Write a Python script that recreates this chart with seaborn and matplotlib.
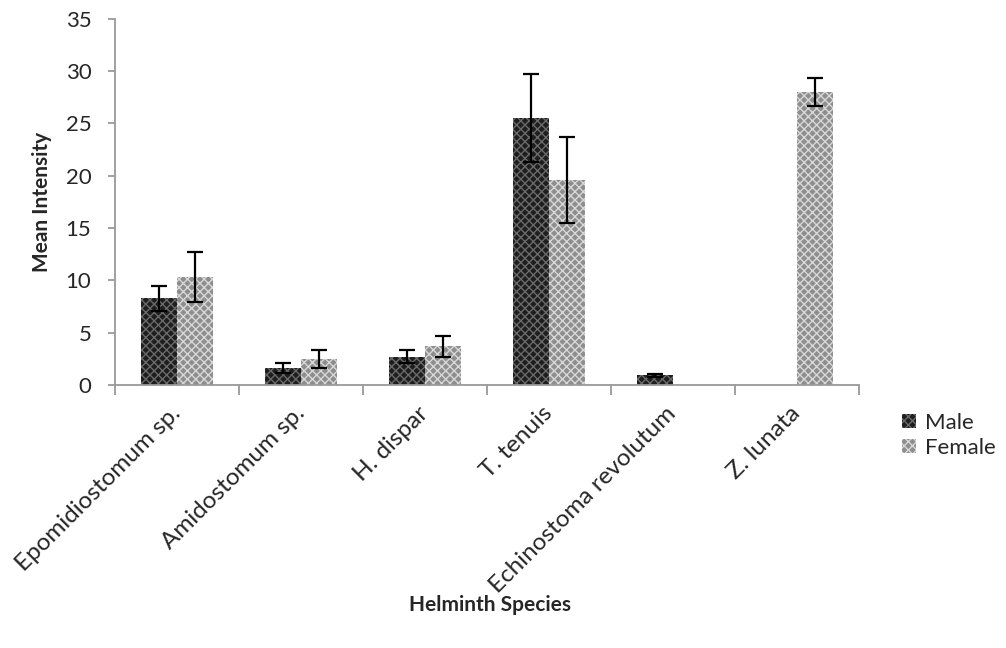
import matplotlib
matplotlib.use("Agg")
import matplotlib.pyplot as plt
import seaborn as sns
import pandas as pd
import numpy as np
from matplotlib.patches import Patch

species = ["Epomidiostomum sp.", "Amidostomum sp.", "H. dispar", "T. tenuis",
           "Echinostoma revolutum", "Z. lunata"]
male = [8.3, 1.6, 2.7, 25.5, 0.9, 0.0]
male_err = [1.2, 0.5, 0.6, 4.2, 0.1, 0.0]
female = [10.3, 2.5, 3.7, 19.6, 0.0, 28.0]
female_err = [2.4, 0.85, 1.0, 4.1, 0.0, 1.3]
sexes = ["Male", "Female"]
yticks = [0, 5, 10, 15, 20, 25, 30, 35]

df = pd.DataFrame({
    "Species": species * 2,
    "Sex": ["Male"] * len(species) + ["Female"] * len(species),
    "Value": male + female,
})

sns.set_style("white")
plt.rcParams["font.family"] = ["Lato", "DejaVu Sans"]
plt.rcParams["hatch.linewidth"] = 1.0

fig = plt.figure(figsize=(10.06, 6.48), dpi=100)
ax = fig.add_axes([0.1143, 0.406, 0.7395, 0.565])

face = {"Male": "#1e1e1e", "Female": "#8e8e8e"}
hatchc = {"Male": "#6a6a6a", "Female": "#d8d8d8"}

sns.barplot(data=df, x="Species", y="Value", hue="Sex", order=species,
            hue_order=sexes, palette=face, width=0.58, gap=0, ax=ax,
            legend=False, errorbar=None, saturation=1)

errs = {"Male": (male, male_err), "Female": (female, female_err)}
for cont, sex in zip(ax.containers, sexes):
    vals, es = errs[sex]
    for bar, v, e in zip(cont, vals, es):
        bar.set_hatch("xxxx")
        bar.set_edgecolor(hatchc[sex])
        bar.set_linewidth(0)
        if v > 0 and e > 0:
            cx = bar.get_x() + bar.get_width() / 2
            ax.errorbar(cx, v, yerr=e, color="black", capsize=6,
                        elinewidth=1.6, capthick=1.6, fmt="none", zorder=5)

ax.set_ylim(0, 35)
ax.set_xlim(-0.5, len(species) - 0.5)
ax.set_xlabel("")
ax.set_yticks(yticks)
ax.set_yticklabels([str(t) for t in yticks], fontsize=16)
for s in ["top", "right"]:
    ax.spines[s].set_visible(False)
for s in ["left", "bottom"]:
    ax.spines[s].set_color("#999999")
    ax.spines[s].set_linewidth(1.3)

ax.tick_params(axis="y", which="major", direction="out", length=5,
               color="#999999", width=1.3, left=True, pad=12)
ax.set_xticks(np.arange(len(species)))
ax.set_xticklabels(species, rotation=45, ha="right", va="center",
                   rotation_mode="anchor", fontsize=17.5)
ax.tick_params(axis="x", which="major", length=0, pad=18)
ax.set_xticks(np.arange(len(species) + 1) - 0.5, minor=True)
ax.tick_params(axis="x", which="minor", direction="out", length=7,
               color="#999999", width=1.3, bottom=True)

ax.set_ylabel("Mean Intensity", fontsize=15, fontweight="bold", labelpad=10)
fig.text(0.487, 0.067, "Helminth Species", fontsize=15, fontweight="bold",
         ha="center", va="center")

handles = [Patch(facecolor=face[s], edgecolor=hatchc[s], hatch="xxxx",
                 linewidth=0) for s in sexes]
leg = fig.legend(handles, sexes, loc="center left",
                 bbox_to_anchor=(0.897, 0.328), frameon=False, fontsize=16,
                 handlelength=0.6, handleheight=0.6, handletextpad=0.4,
                 labelspacing=0.25, borderaxespad=0, borderpad=0)

fig.savefig("out.png", dpi=100)
